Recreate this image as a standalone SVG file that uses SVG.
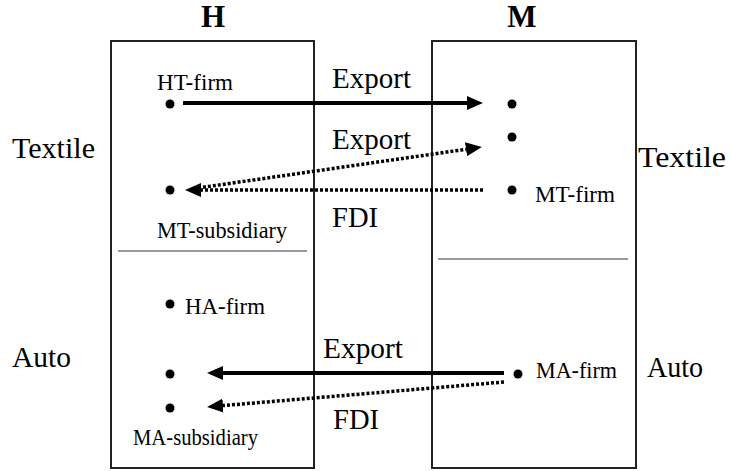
<svg xmlns="http://www.w3.org/2000/svg" width="730" height="471" viewBox="0 0 730 471">
<style>
  .t { font-family: 'Liberation Serif', 'Times New Roman', serif; fill: #000; }
  .title { font-size: 31px; font-weight: bold; text-anchor: middle; }
  .big { font-size: 30px; }
  .small { font-size: 24px; }
  .box { fill: #fff; stroke: #222; stroke-width: 2; }
  .div { stroke: #777; stroke-width: 1.5; }
  .dot { fill: #000; }
  .solid { stroke: #000; stroke-width: 4; fill: none; }
  .dotted { stroke: #000; stroke-width: 3.5; stroke-dasharray: 3 2; fill: none; }
</style>
<defs>
  <marker id="ah" markerUnits="userSpaceOnUse" markerWidth="16" markerHeight="14" refX="0" refY="7" orient="auto" viewBox="0 0 16 14">
    <path d="M0,0 L16,7 L0,14 z" fill="#000"/>
  </marker>
</defs>
<rect width="730" height="471" fill="#fff"/>

<g id="country-H">
  <rect class="box" x="111" y="41" width="203" height="427"/>
  <line class="div" x1="118" y1="251" x2="307" y2="251"/>
  <text class="t title" x="213" y="27">H</text>
</g>
<g id="country-M">
  <rect class="box" x="432" y="41" width="204" height="427"/>
  <line class="div" x1="438" y1="259" x2="628" y2="259"/>
  <text class="t title" x="522" y="27">M</text>
</g>

<g id="sector-labels">
  <text class="t big" x="12" y="158" textLength="83" lengthAdjust="spacingAndGlyphs">Textile</text>
  <text class="t big" x="638" y="167" textLength="88" lengthAdjust="spacingAndGlyphs">Textile</text>
  <text class="t big" x="12" y="367" textLength="59" lengthAdjust="spacingAndGlyphs">Auto</text>
  <text class="t big" x="647" y="377" textLength="56" lengthAdjust="spacingAndGlyphs">Auto</text>
</g>

<g id="ht-firm">
  <circle class="dot" cx="170" cy="104" r="4.5"/>
  <text class="t small" x="157" y="90" textLength="76" lengthAdjust="spacingAndGlyphs">HT-firm</text>
</g>
<g id="mt-subsidiary">
  <circle class="dot" cx="170" cy="190" r="4.5"/>
  <text class="t small" x="157" y="238" textLength="130" lengthAdjust="spacingAndGlyphs">MT-subsidiary</text>
</g>
<g id="ha-firm">
  <circle class="dot" cx="170" cy="304" r="4.5"/>
  <text class="t small" x="185" y="314" textLength="80" lengthAdjust="spacingAndGlyphs">HA-firm</text>
</g>
<g id="h-auto-import">
  <circle class="dot" cx="170" cy="374" r="4.5"/>
</g>
<g id="ma-subsidiary">
  <circle class="dot" cx="170" cy="408" r="4.5"/>
  <text class="t small" x="133" y="445" textLength="125" lengthAdjust="spacingAndGlyphs">MA-subsidiary</text>
</g>
<g id="m-textile-import-1">
  <circle class="dot" cx="512" cy="104" r="4.5"/>
</g>
<g id="m-textile-import-2">
  <circle class="dot" cx="512" cy="137" r="4.5"/>
</g>
<g id="mt-firm">
  <circle class="dot" cx="512" cy="190" r="4.5"/>
  <text class="t small" x="535" y="202" textLength="80" lengthAdjust="spacingAndGlyphs">MT-firm</text>
</g>
<g id="ma-firm">
  <circle class="dot" cx="518" cy="374" r="4.5"/>
  <text class="t small" x="536" y="378" textLength="81" lengthAdjust="spacingAndGlyphs">MA-firm</text>
</g>

<g id="connectors">
  <line class="solid" x1="183" y1="103" x2="467" y2="103" marker-end="url(#ah)"/>
  <text class="t big" x="332" y="88" textLength="79" lengthAdjust="spacingAndGlyphs">Export</text>

  <line class="dotted" x1="198" y1="188" x2="466" y2="149.3" marker-end="url(#ah)"/>
  <text class="t big" x="332" y="149" textLength="79" lengthAdjust="spacingAndGlyphs">Export</text>

  <line class="dotted" x1="483" y1="190" x2="201" y2="190" marker-end="url(#ah)"/>
  <text class="t big" x="332" y="227" textLength="46" lengthAdjust="spacingAndGlyphs">FDI</text>

  <line class="solid" x1="504" y1="373" x2="223" y2="373" marker-end="url(#ah)"/>
  <text class="t big" x="323" y="358" textLength="80" lengthAdjust="spacingAndGlyphs">Export</text>

  <line class="dotted" x1="504" y1="382" x2="223" y2="405.6" marker-end="url(#ah)"/>
  <text class="t big" x="333" y="429" textLength="46" lengthAdjust="spacingAndGlyphs">FDI</text>
</g>
</svg>
